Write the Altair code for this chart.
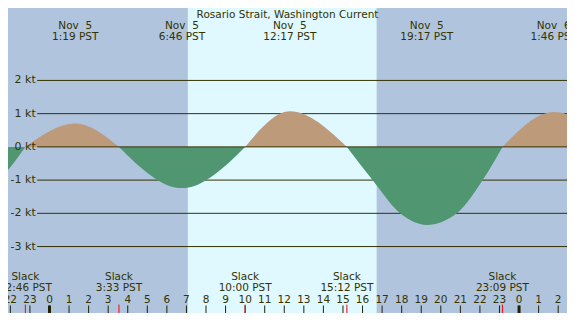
import altair as alt
import pandas as pd

# ---------------- data ----------------
title_text = "Rosario Strait, Washington Current"

# max current events (top labels)
max_h = [1.317, 6.767, 12.283, 19.283, 25.767]
max_date = ["Nov \u00a05", "Nov \u00a05", "Nov \u00a05", "Nov \u00a05", "Nov \u00a06"]
max_time = ["1:19 PST", "6:46 PST", "12:17 PST", "19:17 PST", "1:46 PST"]

# slack events (bottom labels)
slack_h = [-1.233, 3.55, 10.0, 15.2, 23.15]
slack_time = ["22:46 PST", "3:33 PST", "10:00 PST", "15:12 PST", "23:09 PST"]

# daylight window (hours since Nov 5 00:00)
sunrise_h = [7.07]
sunset_h = [16.72]

# current curve, one group per flood / ebb phase (hours, knots)
seg_kind = ["ebb", "flood", "ebb", "flood", "ebb", "flood"]
seg_h = [
    [-6.4, -3.8, -1.233],
    [-1.233, 1.317, 3.55],
    [3.55, 6.767, 10.0],
    [10.0, 12.283, 15.2],
    [15.2, 16.51, 17.92, 19.283, 20.82, 22.14, 23.15],
    [23.15, 25.767, 29.0],
]
seg_v = [
    [0, -1.4, 0],
    [0, 0.70, 0],
    [0, -1.24, 0],
    [0, 1.07, 0],
    [0, -1.0, -2.0, -2.35, -2.0, -1.0, 0],
    [0, 1.05, 0],
]

grid_kt = [2, 1, 0, -1, -2, -3]
grid_labels = ["2 kt", "1 kt", "0 kt", "-1 kt", "-2 kt", "-3 kt"]

hour_ticks = list(range(-2, 27))
hour_labels = [str(h % 24) for h in hour_ticks]
midnights = [0, 24]

# ---------------- layout ----------------
W, H = 559, 305
sx = W / 575.0
sy = H / 326.0
XDOM = [-2.12, 26.45]
YDOM = [-5.0, 4.18]

NIGHT = "#b0c4de"
DAY = "#e0f8ff"
FLOOD = "#bd9a7a"
EBB = "#509670"
INK = "#333300"
FONT = "DejaVu Sans"
FS = 10.5

xs = alt.Scale(domain=XDOM, nice=False, zero=False)
ys = alt.Scale(domain=YDOM, nice=False, zero=False)

rows = []
for i, (hh, vv) in enumerate(zip(seg_h, seg_v)):
    for a, b in zip(hh, vv):
        rows.append({"h": a, "v": b, "z": 0.0, "seg": i, "kind": seg_kind[i]})
curve = pd.DataFrame(rows)

day_df = pd.DataFrame({"a": sunrise_h, "b": sunset_h})
grid_df = pd.DataFrame({"kt": grid_kt, "lab": grid_labels})
max_df = pd.DataFrame({"h": max_h, "d": max_date, "t": max_time})
slack_df = pd.DataFrame({"h": slack_h, "t": slack_time, "s": ["Slack"] * len(slack_h)})
hour_df = pd.DataFrame({"h": hour_ticks, "lab": hour_labels})
mid_df = pd.DataFrame({"h": midnights})
title_df = pd.DataFrame({"t": [title_text]})


def txt(df, **kw):
    return alt.Chart(df).mark_text(align="center", baseline="middle", font=FONT,
                                   fontSize=FS, color=INK, **kw)


day = alt.Chart(day_df).mark_rect(color=DAY).encode(
    x=alt.X("a:Q", scale=xs, axis=None), x2="b:Q",
    y=alt.value(0), y2=alt.value(H))

grid = alt.Chart(grid_df[grid_df.kt != 0]).mark_rule(color=INK, strokeWidth=1).encode(
    y=alt.Y("kt:Q", scale=ys, axis=None),
    x=alt.value(30 * sx), x2=alt.value(W))

area = alt.Chart(curve).mark_area(interpolate="monotone", clip=True).encode(
    x=alt.X("h:Q", scale=xs, axis=None),
    y=alt.Y("v:Q", scale=ys, axis=None, stack=None),
    y2="z:Q",
    detail="seg:N",
    color=alt.Color("kind:N", scale=alt.Scale(domain=["flood", "ebb"], range=[FLOOD, EBB]), legend=None))

zero = alt.Chart(grid_df[grid_df.kt == 0]).mark_rule(color=INK, strokeWidth=1).encode(
    y=alt.Y("kt:Q", scale=ys, axis=None),
    x=alt.value(30 * sx), x2=alt.value(W))

ylab = alt.Chart(grid_df).mark_text(align="right", baseline="middle", font=FONT, fontSize=11, color=INK).encode(
    y=alt.Y("kt:Q", scale=ys, axis=None), x=alt.value(28.5 * sx), text="lab:N")

title = txt(title_df).encode(x=alt.value(287.5 * sx), y=alt.value(7.0 * sy), text="t:N")

top1 = txt(max_df).encode(x=alt.X("h:Q", scale=xs, axis=None), y=alt.value(19.3 * sy), text="d:N")
top2 = txt(max_df).encode(x=alt.X("h:Q", scale=xs, axis=None), y=alt.value(31.5 * sy), text="t:N")

bot1 = txt(slack_df).encode(x=alt.X("h:Q", scale=xs, axis=None), y=alt.value(287.0 * sy), text="s:N")
bot2 = txt(slack_df).encode(x=alt.X("h:Q", scale=xs, axis=None), y=alt.value(299.0 * sy), text="t:N")

hlab = txt(hour_df).encode(x=alt.X("h:Q", scale=xs, axis=None), y=alt.value(312 * sy), text="lab:N")

hticks = alt.Chart(hour_df).mark_rule(color="#222200", strokeWidth=1).encode(
    x=alt.X("h:Q", scale=xs, axis=None), y=alt.value(318 * sy), y2=alt.value(H))

mticks = alt.Chart(mid_df).mark_rule(color="#222200", strokeWidth=3).encode(
    x=alt.X("h:Q", scale=xs, axis=None), y=alt.value(318 * sy), y2=alt.value(H))

sticks = alt.Chart(slack_df).mark_rule(color="#ff0000", strokeWidth=1).encode(
    x=alt.X("h:Q", scale=xs, axis=None), y=alt.value(317 * sy), y2=alt.value(H))

chart = alt.layer(day, grid, area, zero, ylab, title, top1, top2, bot1, bot2,
                  hlab, hticks, mticks, sticks).properties(
    width=W, height=H, padding=0,
    autosize=alt.AutoSizeParams(type="none"),
    background=NIGHT,
).configure_view(stroke=None, fill=NIGHT)

chart.save("out.html", embed_options={"renderer": "svg", "actions": False})
